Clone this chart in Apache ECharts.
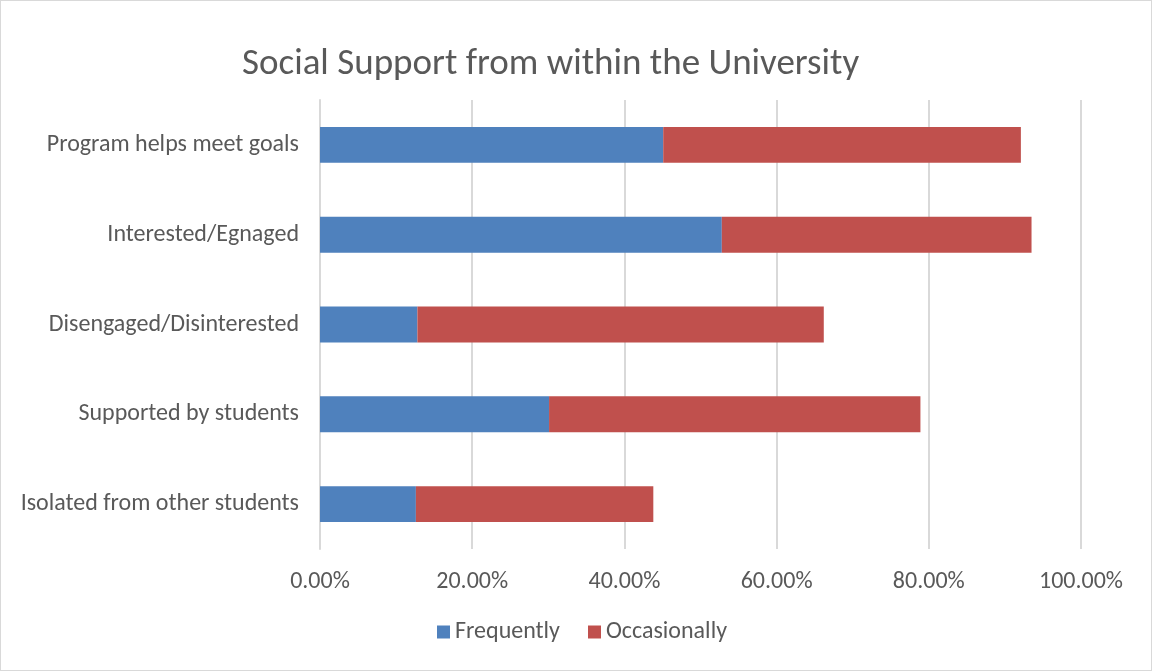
<!DOCTYPE html>
<html><head><meta charset="utf-8">
<script src="https://cdn.jsdelivr.net/npm/echarts@6/dist/echarts.min.js"></script>
<style>html,body{margin:0;padding:0;background:#fff}#c{width:1150px;height:669px;border:1px solid #d9d9d9}</style>
</head><body><div id="c"></div>
<script>
const categories = ["Program helps meet goals","Interested/Egnaged","Disengaged/Disinterested","Supported by students","Isolated from other students"];
const frequently = [45.1, 52.8, 12.8, 30.1, 12.6];
const occasionally = [47.0, 40.7, 53.4, 48.8, 31.2];
const seriesNames = ["Frequently","Occasionally"];
const chart = echarts.init(document.getElementById('c'));
const font = "Carlito, 'Open Sans', 'Liberation Sans', sans-serif";
chart.setOption({
  animation:false,
  textStyle:{fontFamily:font},
  title:{text:"Social Support from within the University",left:236,top:40,
    textStyle:{fontSize:37,fontWeight:'normal',color:'#595959',fontFamily:font}},
  legend:{bottom:21,left:431,itemWidth:13,itemHeight:13,itemGap:28,icon:'rect',
    textStyle:{fontSize:24,color:'#595959',fontFamily:font},data:seriesNames},
  grid:{left:319,right:70,top:99,bottom:121},
  xAxis:{type:'value',min:0,max:100,interval:20,
    axisLabel:{formatter:v=>v.toFixed(2)+'%',fontSize:24,color:'#595959',margin:21,fontFamily:font},
    splitLine:{lineStyle:{color:'#d9d9d9',width:2}},axisLine:{show:false},axisTick:{show:false}},
  yAxis:{type:'category',data:categories,inverse:true,
    axisLabel:{fontSize:24,color:'#595959',margin:21,fontFamily:font},
    axisLine:{lineStyle:{color:'#d9d9d9',width:2}},axisTick:{show:false}},
  series:[
    {name:seriesNames[0],type:'bar',stack:'a',data:frequently,barWidth:'40%',itemStyle:{color:'#4f81bd'}},
    {name:seriesNames[1],type:'bar',stack:'a',data:occasionally,barWidth:'40%',itemStyle:{color:'#c0504d'}}
  ]
});
</script></body></html>
